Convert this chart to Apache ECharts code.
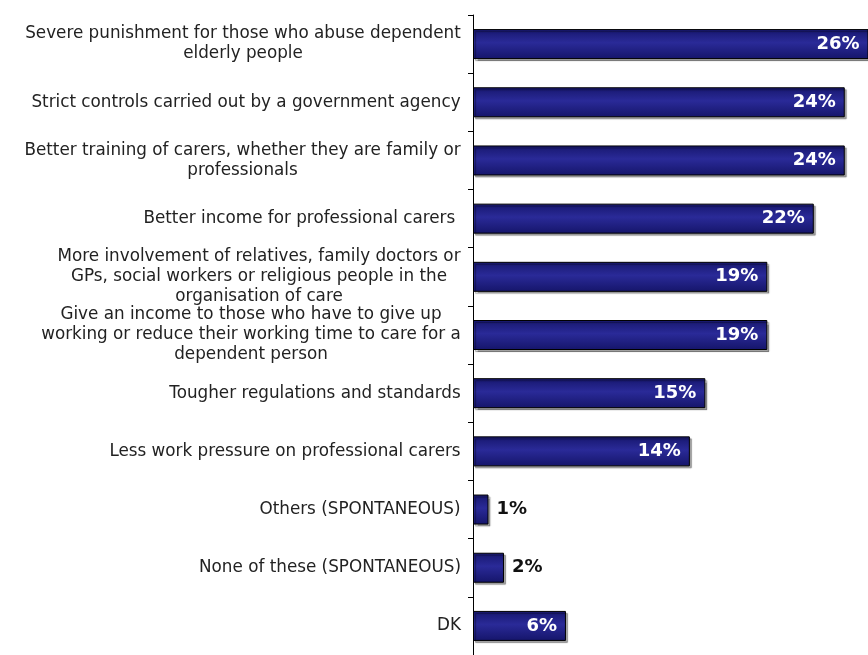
<!DOCTYPE html>
<html>
<head>
<meta charset="utf-8">
<script src="https://cdn.jsdelivr.net/npm/echarts@6/dist/echarts.min.js"></script>
<style>
  html, body { margin: 0; padding: 0; background: #fff; }
  #chart { width: 868px; height: 655px; }
</style>
</head>
<body>
<div id="chart"></div>
<script>
// categories (top to bottom)
const categories = [
  'Severe punishment for those who abuse dependent\nelderly people',
  'Strict controls carried out by a government agency',
  'Better training of carers, whether they are family or\nprofessionals',
  'Better income for professional carers ',
  'More involvement of relatives, family doctors or\nGPs, social workers or religious people in the\norganisation of care',
  'Give an income to those who have to give up\nworking or reduce their working time to care for a\ndependent person',
  'Tougher regulations and standards',
  'Less work pressure on professional carers',
  'Others (SPONTANEOUS)',
  'None of these (SPONTANEOUS)',
  'DK'
];
const values = [26, 24, 24, 22, 19, 19, 15, 14, 1, 2, 6];

const labelSize = 16.8;

// measure each label so lines can be centred inside a right-aligned block
const ctx = document.createElement('canvas').getContext('2d');
ctx.font = labelSize + 'px "DejaVu Sans"';
const rich = {};
categories.forEach((c, i) => {
  const w = Math.max(...c.split('\n').map(l => ctx.measureText(l).width));
  rich['c' + i] = { width: Math.ceil(w), align: 'center', fontSize: labelSize, lineHeight: 20,
    fontFamily: 'DejaVu Sans', color: '#222' };
});

const chart = echarts.init(document.getElementById('chart'));
chart.setOption({
  animation: false,
  grid: { left: 473, right: 0, top: 15, bottom: -2 },
  xAxis: {
    type: 'value', min: 0, max: 25.5, show: false
  },
  yAxis: {
    type: 'category',
    data: categories,
    inverse: true,
    axisLine: { show: true, lineStyle: { color: '#000', width: 1 } },
    axisTick: { show: true, length: 5, lineStyle: { color: '#000', width: 1 } },
    axisLabel: {
      margin: 12,
      formatter: (v, i) => v.split('\n').map(l => '{c' + i + '|' + l + '}').join('\n'),
      rich: rich
    }
  },
  series: [{
    type: 'bar',
    data: values.map(v => ({
      value: v,
      label: v < 5
        ? { position: 'right', color: '#111', distance: 8 }
        : { position: 'insideRight', color: '#fff', distance: 9 }
    })),
    barWidth: 30,
    itemStyle: {
      color: new echarts.graphic.LinearGradient(0, 0, 0, 1, [
        { offset: 0, color: '#17176e' },
        { offset: 0.45, color: '#2a2a98' },
        { offset: 1, color: '#15156a' }
      ]),
      borderColor: '#000',
      borderWidth: 1,
      shadowColor: 'rgba(0,0,0,0.35)',
      shadowOffsetX: 2,
      shadowOffsetY: 2,
      shadowBlur: 1
    },
    label: {
      show: true,
      formatter: '{c}%',
      fontFamily: 'DejaVu Sans',
      fontWeight: 'bold',
      fontSize: 18
    }
  }]
});
</script>
</body>
</html>
